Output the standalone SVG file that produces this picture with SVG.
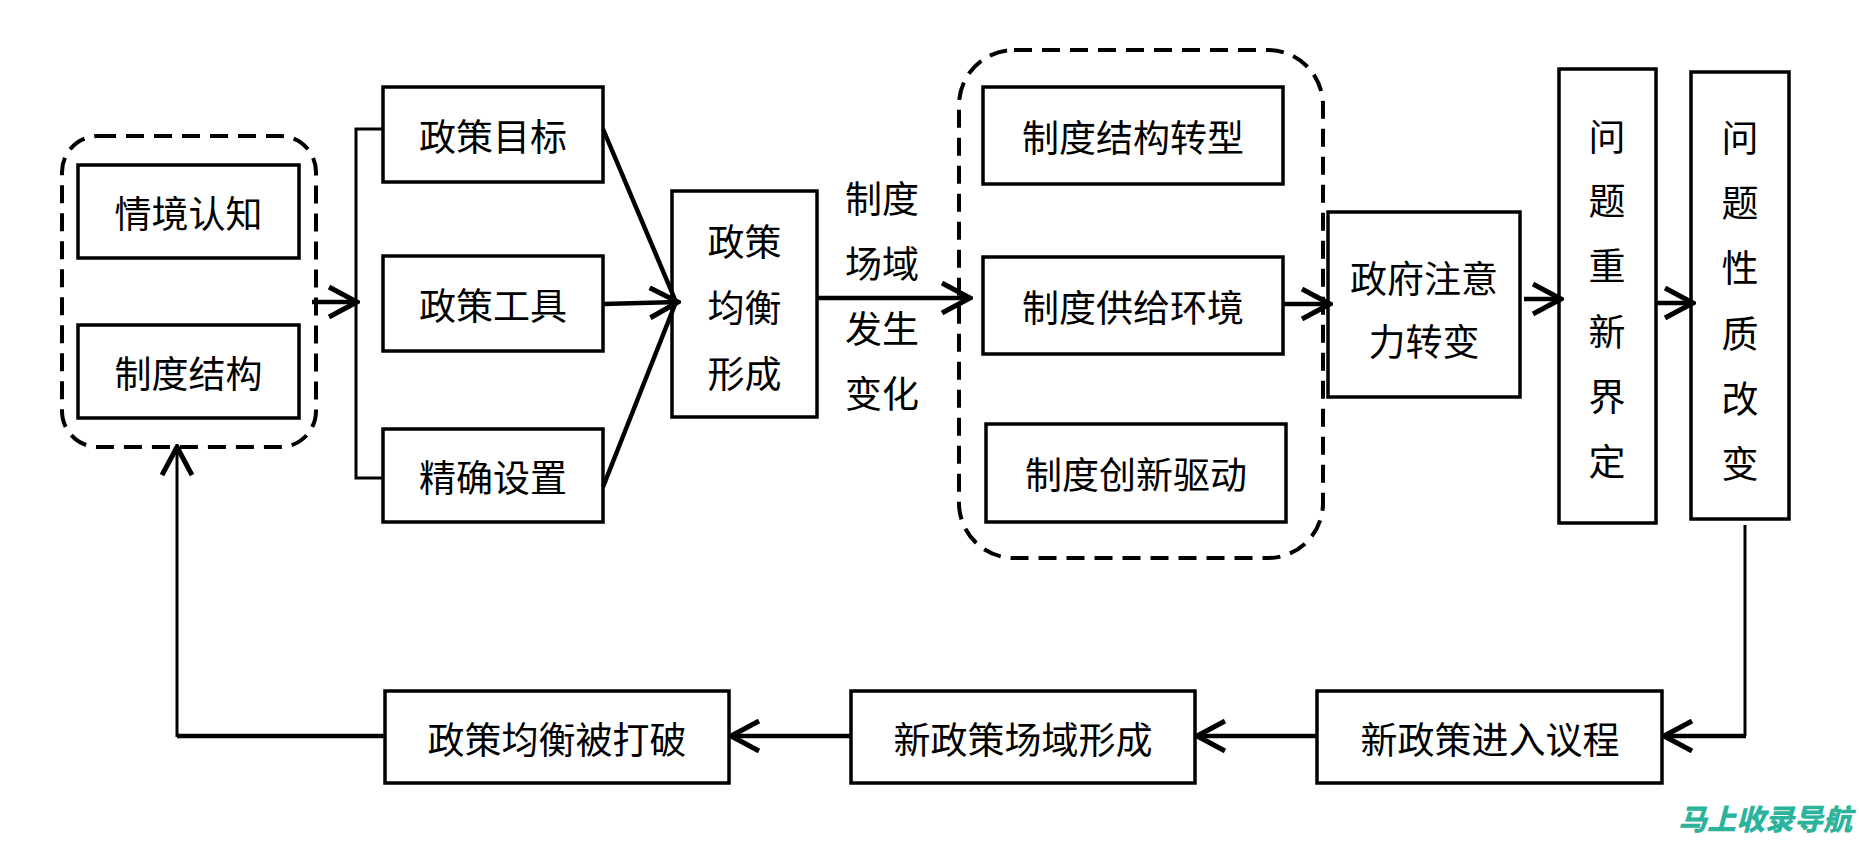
<svg xmlns="http://www.w3.org/2000/svg" width="1859" height="849" viewBox="0 0 1859 849">
<style>
.box{fill:#fff;stroke:#000;stroke-width:3.5}
.grp{fill:none;stroke:#000;stroke-width:4;stroke-dasharray:18 10}
.t{font-family:"Noto Sans CJK SC","Noto Sans CJK JP",sans-serif;font-size:37px;fill:#000;text-anchor:middle;dominant-baseline:central}
.c{fill:none;stroke:#000;stroke-width:4.5}
.thin{fill:none;stroke:#000;stroke-width:3}
.wm{font-family:"Noto Sans CJK SC",sans-serif;font-size:29px;font-weight:900;fill:#2bb39b;font-style:italic}
</style>
<defs>
<marker id="ah" viewBox="0 0 34 34" refX="31" refY="17" markerWidth="34" markerHeight="34" markerUnits="userSpaceOnUse" orient="auto">
<path d="M3,2 L31,17 L3,32" fill="none" stroke="#000" stroke-width="5"/>
</marker>
</defs>
<rect width="1859" height="849" fill="#fff"/>

<g id="group-left">
<rect class="grp" x="62" y="136" width="254" height="311" rx="36"/>
</g>
<g id="group-mid">
<rect class="grp" x="959" y="50" width="364" height="508" rx="55"/>
</g>

<g id="n-qingjing"><rect class="box" x="78" y="165" width="221" height="93"/><text class="t" x="188.5" y="211.5">情境认知</text></g>
<g id="n-zhidujiegou"><rect class="box" x="78" y="325" width="221" height="93"/><text class="t" x="188.5" y="371.5">制度结构</text></g>

<g id="n-mubiao"><rect class="box" x="383" y="87" width="220" height="95"/><text class="t" x="493" y="134.5">政策目标</text></g>
<g id="n-gongju"><rect class="box" x="383" y="256" width="220" height="95"/><text class="t" x="493" y="303.5">政策工具</text></g>
<g id="n-shezhi"><rect class="box" x="383" y="429" width="220" height="93"/><text class="t" x="493" y="475.5">精确设置</text></g>

<g id="n-junheng"><rect class="box" x="672" y="191" width="145" height="226"/>
<text class="t" x="744.5" y="240">政策</text><text class="t" x="744.5" y="306">均衡</text><text class="t" x="744.5" y="372">形成</text></g>

<g id="n-zhuanxing"><rect class="box" x="983" y="87" width="300" height="97"/><text class="t" x="1133" y="135.5">制度结构转型</text></g>
<g id="n-gongji"><rect class="box" x="983" y="257" width="300" height="97"/><text class="t" x="1133" y="305.5">制度供给环境</text></g>
<g id="n-chuangxin"><rect class="box" x="986" y="424" width="300" height="98"/><text class="t" x="1136" y="473">制度创新驱动</text></g>

<g id="n-zhengfu"><rect class="box" x="1328" y="212" width="192" height="185"/>
<text class="t" x="1424" y="277">政府注意</text><text class="t" x="1424" y="340">力转变</text></g>

<g id="n-jieding"><rect class="box" x="1559" y="69" width="97" height="454"/>
<text class="t" x="1607" y="135">问</text><text class="t" x="1607" y="199">题</text><text class="t" x="1607" y="264">重</text><text class="t" x="1607" y="330">新</text><text class="t" x="1607" y="395">界</text><text class="t" x="1607" y="460">定</text></g>

<g id="n-xingzhi"><rect class="box" x="1691" y="72" width="98" height="447"/>
<text class="t" x="1740" y="136">问</text><text class="t" x="1740" y="201">题</text><text class="t" x="1740" y="266">性</text><text class="t" x="1740" y="332">质</text><text class="t" x="1740" y="397">改</text><text class="t" x="1740" y="462">变</text></g>

<g id="n-yicheng"><rect class="box" x="1317" y="691" width="345" height="92"/><text class="t" x="1490" y="738">新政策进入议程</text></g>
<g id="n-changyu"><rect class="box" x="851" y="691" width="344" height="92"/><text class="t" x="1023" y="738">新政策场域形成</text></g>
<g id="n-dapo"><rect class="box" x="385" y="691" width="344" height="92"/><text class="t" x="557" y="738">政策均衡被打破</text></g>

<g id="edge-label"><text class="t" x="882" y="197">制度</text><text class="t" x="882" y="262">场域</text><text class="t" x="882" y="327">发生</text><text class="t" x="882" y="392">变化</text></g>

<g id="connectors">
<path class="c" d="M312,302 H357" marker-end="url(#ah)"/>
<path class="thin" d="M383,129 H356 V478 H383"/>
<path class="c" d="M603,129 L676,302"/>
<path class="c" d="M603,487 L676,302"/>
<path class="c" d="M603,304 L678,302" marker-end="url(#ah)"/>
<path class="c" d="M817,298 H970" marker-end="url(#ah)"/>
<path class="c" d="M1283,304 H1330" marker-end="url(#ah)"/>
<path class="c" d="M1524,299 H1561" marker-end="url(#ah)"/>
<path class="c" d="M1656,303 H1693" marker-end="url(#ah)"/>
<path class="thin" d="M1745,525 V736"/>
<path class="c" d="M1746,736 H1664" marker-end="url(#ah)"/>
<path class="c" d="M1317,736 H1197" marker-end="url(#ah)"/>
<path class="c" d="M851,736 H731" marker-end="url(#ah)"/>
<path class="c" d="M385,736 H177"/>
<path class="thin" d="M177,737 V447" marker-end="url(#ah)"/>
</g>

<text class="wm" x="1678" y="830">马上收录导航</text>
</svg>
